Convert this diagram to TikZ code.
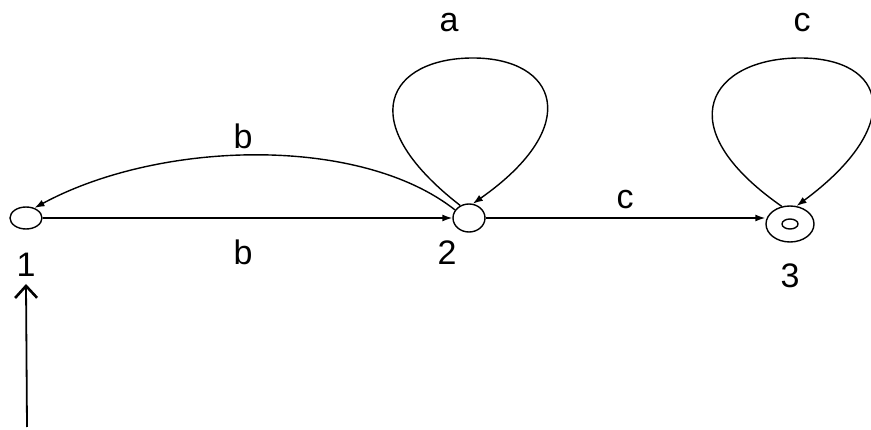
\documentclass[tikz,border=0pt]{standalone}
\usepackage{fontspec}
\setmainfont{Liberation Sans}
\usetikzlibrary{shapes.geometric,arrows.meta}
\begin{document}
\begin{tikzpicture}[x=1pt,y=-1pt,
  state/.style={draw,ellipse,line width=1.4pt,inner sep=0pt},
  lbl/.style={inner sep=0pt,anchor=center,font=\fontsize{34}{36}\selectfont},
  edge/.style={line width=1.4pt,-{Latex[length=10pt,width=7pt]}},
  startarr/.style={line width=1.8pt,-{Straight Barb[length=12pt,width=22pt,line width=2.6pt]}}]
\useasboundingbox (0,0) rectangle (871,430);
\node[state,minimum width=32pt,minimum height=22pt] (n1) at (26,218) {};
\node[state,minimum width=32pt,minimum height=28pt] (n2) at (469,218) {};
\node[state,minimum width=48pt,minimum height=36pt] (n3) at (790,224) {};
\node[state,minimum width=16pt,minimum height=10pt] (n3i) at (790,224) {};
\coordinate (s0) at (27,427);
\draw[startarr] (s0) -- (n1.south |- 0,284);
\node[lbl] (l1) at (26,265) {1};
\node[lbl] (l2) at (447,253) {2};
\node[lbl] (l3) at (790,276) {3};
\node[lbl] (la) at (449,23) {a};
\node[lbl] (lc3) at (802,23) {c};
\node[lbl] (lbu) at (243,136) {b};
\node[lbl] (lbd) at (243,252) {b};
\node[lbl] (lc) at (625,200) {c};
\draw[edge] (n1.east) -- (n2.west);
\draw[edge] (n2.east) -- (n2.east -| n3.west);
\draw[edge] (n2.150) .. controls (360,135) and (160,140) .. (n1.50);
\draw[edge] (n2.125) .. controls (350,120) and (390,58) .. (473,58)
  .. controls (556,58) and (585,125) .. (n2.75);
\draw[edge] (n3.115) .. controls (665,125) and (712,58) .. (800,58)
  .. controls (887,58) and (906,125) .. (n3.70);
\end{tikzpicture}
\end{document}
